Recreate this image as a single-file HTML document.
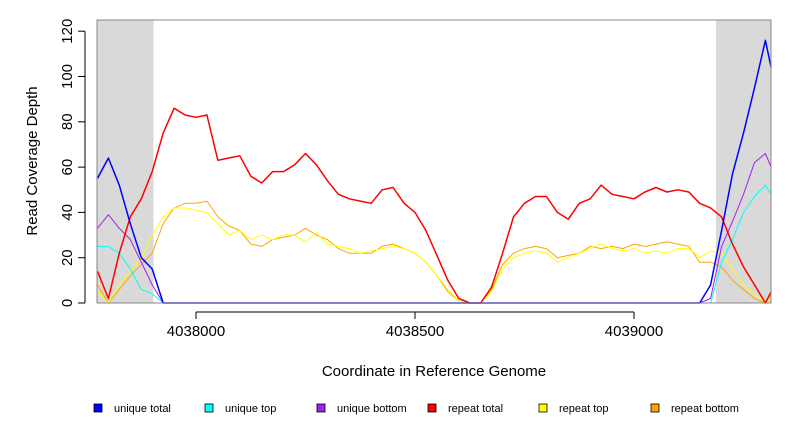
<!DOCTYPE html>
<html><head><meta charset="utf-8"><style>
body{margin:0;background:#fff;font-family:"Liberation Sans",sans-serif}
svg text{font-family:"Liberation Sans",sans-serif}
</style></head><body>
<svg id="chart" width="792" height="432" viewBox="0 0 792 432" xmlns="http://www.w3.org/2000/svg">
<rect x="0" y="0" width="792" height="432" fill="#fff"/>
<g id="shade"></g>
<g id="series"></g>
<g id="axes"></g>
<g id="legend"></g>
</svg>
<script>
const coords = [];
for (let i = 0; i < 62; i++) coords.push(4037775 + i * 25);
coords.push(4039313);
const uniqueTotal = [55,64,52,35,20,15,0,0,0,0,0,0,0,0,0,0,0,0,0,0,0,0,0,0,0,0,0,0,0,0,0,0,0,0,0,0,0,0,0,0,0,0,0,0,0,0,0,0,0,0,0,0,0,0,0,0,8,32,57,75,95,116,104];
const uniqueTop = [25,25,22,15,6,4,0,0,0,0,0,0,0,0,0,0,0,0,0,0,0,0,0,0,0,0,0,0,0,0,0,0,0,0,0,0,0,0,0,0,0,0,0,0,0,0,0,0,0,0,0,0,0,0,0,0,0,18,28,40,47,52,48];
const uniqueBottom = [33,39,33,28,18,8,0,0,0,0,0,0,0,0,0,0,0,0,0,0,0,0,0,0,0,0,0,0,0,0,0,0,0,0,0,0,0,0,0,0,0,0,0,0,0,0,0,0,0,0,0,0,0,0,0,0,2,25,36,48,62,66,60];
const repeatTotal = [14,2,22,38,46,58,75,86,83,82,83,63,64,65,56,53,58,58,61,66,61,54,48,46,45,44,50,51,44,40,32,21,10,2,0,0,7,22,38,44,47,47,40,37,44,46,52,48,47,46,49,51,49,50,49,44,42,38,26,16,8,0,5];
const repeatTop = [5,0,8,14,20,30,38,42,42,41,40,35,30,32,28,30,28,30,30,27,31,26,25,24,22,23,24,25,24,22,18,12,6,1,0,0,5,15,20,22,23,22,18,20,22,24,26,24,23,24,22,23,22,24,24,20,23,22,15,8,4,0,2];
const repeatBottom = [8,0,6,12,17,22,35,42,44,44,45,38,34,32,26,25,28,29,30,33,30,28,24,22,22,22,25,26,24,22,18,12,5,1,0,0,6,17,22,24,25,24,20,21,22,25,24,25,24,26,25,26,27,26,25,18,18,16,10,6,2,0,4];
const seriesNames = ["unique total","unique top","unique bottom","repeat total","repeat top","repeat bottom"];
const seriesColors = ["#0000ff","#00ffff","#a020f0","#ff0000","#ffff00","#ffa500"];
const xTicks = [4038000,4038500,4039000];
const yTicks = [0,20,40,60,80,100,120];
const shadeRanges = [[4037775,4037903],[4039187,4039313]];

const NS="http://www.w3.org/2000/svg";
const X0=97,X1=771,Y0=303,Ytop=20;
const sx=c=>196+(c-4038000)*219/500;
const sy=v=>303-v*45.3/20;
function mk(tag,attrs,parent){const e=document.createElementNS(NS,tag);for(const k in attrs)e.setAttribute(k,attrs[k]);parent.appendChild(e);return e;}
const shade=document.getElementById('shade');
shadeRanges.forEach(r=>{
  const e=mk('rect',{x:sx(r[0]),y:Ytop,width:sx(r[1])-sx(r[0]),height:Y0-Ytop,fill:'#d9d9d9'},shade);
  
  
});
const ser=document.getElementById('series');
const all=[uniqueTotal,uniqueTop,uniqueBottom,repeatTotal,repeatTop,repeatBottom];
const order=[5,4,2,1,3,0];
order.forEach(i=>{
  const vals=all[i];let d='';
  for(let k=0;k<vals.length;k++){
    const x=sx(coords[k]),y=sy(vals[k]);
    d+=(k===0?'M':' L')+x.toFixed(1)+' '+y.toFixed(1);
  }
  const p=mk('path',{d:d,fill:'none',stroke:seriesColors[i],'stroke-width':i===0||i===3?1.5:1,'stroke-linejoin':'round'},ser);
  
  
});
const ax=document.getElementById('axes');
const box=mk('rect',{x:X0,y:Ytop,width:X1-X0,height:Y0-Ytop,fill:'none',stroke:'#888','stroke-width':1},ax);


mk('line',{x1:85,x2:85,y1:sy(0),y2:sy(120),stroke:'#000'},ax);
yTicks.forEach(v=>{
  mk('line',{x1:78,x2:85,y1:sy(v),y2:sy(v),stroke:'#000'},ax);
  const t=mk('text',{x:72,y:sy(v),'font-size':15,'text-anchor':'middle',transform:`rotate(-90 72 ${sy(v)})`},ax);
  t.textContent=v;
  
  
});
mk('line',{x1:sx(xTicks[0]),x2:sx(xTicks[2]),y1:312,y2:312,stroke:'#000'},ax);
xTicks.forEach(v=>{
  mk('line',{x1:sx(v),x2:sx(v),y1:312,y2:319,stroke:'#000'},ax);
  const t=mk('text',{x:sx(v),y:336,'font-size':15,'text-anchor':'middle'},ax);
  t.textContent=v;
  
  
});
const xt=mk('text',{x:434,y:376,'font-size':15,'text-anchor':'middle'},ax);
xt.textContent='Coordinate in Reference Genome';


const yt=mk('text',{x:37,y:161,'font-size':15,'text-anchor':'middle',transform:'rotate(-90 37 161)'},ax);
yt.textContent='Read Coverage Depth';


const lg=document.getElementById('legend');
const lx=[94,205,317,428,539,651];
seriesNames.forEach((n,i)=>{
  const g=mk('g',{},lg);
  
  
  mk('rect',{x:lx[i],y:404,width:8,height:8,fill:seriesColors[i],stroke:'#000','stroke-width':0.8},g);
  const t=mk('text',{x:lx[i]+20,y:412,'font-size':11},g);
  t.textContent=n;
});
</script>
</body></html>
